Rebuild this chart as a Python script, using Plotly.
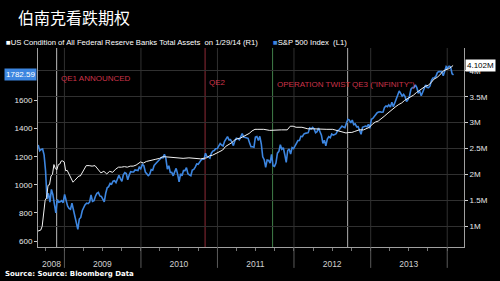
import plotly.graph_objects as go

# ---------------- data ----------------
spx_dates = [
"2008-08-29","2008-09-05","2008-09-12","2008-09-19","2008-09-26","2008-10-03","2008-10-10","2008-10-17","2008-10-24","2008-10-31",
"2008-11-07","2008-11-14","2008-11-21","2008-11-28","2008-12-05","2008-12-12","2008-12-19","2008-12-26",
"2009-01-02","2009-01-09","2009-01-16","2009-01-23","2009-01-30","2009-02-06","2009-02-13","2009-02-20","2009-02-27",
"2009-03-06","2009-03-13","2009-03-20","2009-03-27","2009-04-03","2009-04-09","2009-04-17","2009-04-24","2009-05-01",
"2009-05-08","2009-05-15","2009-05-22","2009-05-29","2009-06-05","2009-06-12","2009-06-19","2009-06-26","2009-07-03",
"2009-07-10","2009-07-17","2009-07-24","2009-07-31","2009-08-07","2009-08-14","2009-08-21","2009-08-28","2009-09-04",
"2009-09-11","2009-09-18","2009-09-25","2009-10-02","2009-10-09","2009-10-16","2009-10-23","2009-10-30","2009-11-06",
"2009-11-13","2009-11-20","2009-11-27","2009-12-04","2009-12-11","2009-12-18","2009-12-24","2009-12-31",
"2010-01-08","2010-01-15","2010-01-22","2010-01-29","2010-02-05","2010-02-12","2010-02-19","2010-02-26","2010-03-05",
"2010-03-12","2010-03-19","2010-03-26","2010-04-02","2010-04-09","2010-04-16","2010-04-23","2010-04-30","2010-05-07",
"2010-05-14","2010-05-21","2010-05-28","2010-06-04","2010-06-11","2010-06-18","2010-06-25","2010-07-02","2010-07-09",
"2010-07-16","2010-07-23","2010-07-30","2010-08-06","2010-08-13","2010-08-20","2010-08-27","2010-09-03","2010-09-10",
"2010-09-17","2010-09-24","2010-10-01","2010-10-08","2010-10-15","2010-10-22","2010-10-29","2010-11-05","2010-11-12",
"2010-11-19","2010-11-26","2010-12-03","2010-12-10","2010-12-17","2010-12-23","2010-12-31",
"2011-01-07","2011-01-14","2011-01-21","2011-01-28","2011-02-04","2011-02-11","2011-02-18","2011-02-25","2011-03-04",
"2011-03-11","2011-03-18","2011-03-25","2011-04-01","2011-04-08","2011-04-15","2011-04-21","2011-04-29","2011-05-06",
"2011-05-13","2011-05-20","2011-05-27","2011-06-03","2011-06-10","2011-06-17","2011-06-24","2011-07-01","2011-07-08",
"2011-07-15","2011-07-22","2011-07-29","2011-08-05","2011-08-12","2011-08-19","2011-08-26","2011-09-02","2011-09-09",
"2011-09-16","2011-09-23","2011-09-30","2011-10-07","2011-10-14","2011-10-21","2011-10-28","2011-11-04","2011-11-11",
"2011-11-18","2011-11-25","2011-12-02","2011-12-09","2011-12-16","2011-12-23","2011-12-30",
"2012-01-06","2012-01-13","2012-01-20","2012-01-27","2012-02-03","2012-02-10","2012-02-17","2012-02-24","2012-03-02",
"2012-03-09","2012-03-16","2012-03-23","2012-03-30","2012-04-06","2012-04-13","2012-04-20","2012-04-27","2012-05-04",
"2012-05-11","2012-05-18","2012-05-25","2012-06-01","2012-06-08","2012-06-15","2012-06-22","2012-06-29","2012-07-06",
"2012-07-13","2012-07-20","2012-07-27","2012-08-03","2012-08-10","2012-08-17","2012-08-24","2012-08-31","2012-09-07",
"2012-09-14","2012-09-21","2012-09-28","2012-10-05","2012-10-12","2012-10-19","2012-10-26","2012-11-02","2012-11-09",
"2012-11-16","2012-11-23","2012-11-30","2012-12-07","2012-12-14","2012-12-21","2012-12-28",
"2013-01-04","2013-01-11","2013-01-18","2013-01-25","2013-02-01","2013-02-08","2013-02-15","2013-02-22","2013-03-01",
"2013-03-08","2013-03-15","2013-03-22","2013-03-28","2013-04-05","2013-04-12","2013-04-19","2013-04-26","2013-05-03",
"2013-05-10","2013-05-17","2013-05-24","2013-05-31","2013-06-07","2013-06-14","2013-06-21","2013-06-28","2013-07-05",
"2013-07-12","2013-07-19","2013-07-26","2013-08-02","2013-08-09","2013-08-16","2013-08-23","2013-08-30","2013-09-06",
"2013-09-13","2013-09-20","2013-09-27","2013-10-04","2013-10-11","2013-10-18","2013-10-25","2013-11-01","2013-11-08",
"2013-11-15","2013-11-22","2013-11-29","2013-12-06","2013-12-13","2013-12-20","2013-12-27",
"2014-01-03","2014-01-10","2014-01-17","2014-01-24","2014-01-31"]
spx_values = [
1283,1242,1252,1255,1213,1099,899,940,877,968,
930,873,800,896,876,879,887,873,
932,890,850,832,826,869,827,770,735,
683,757,768,816,843,857,870,866,877,
929,882,887,919,940,946,921,918,896,
879,940,979,987,1010,1005,1026,1029,1016,
1042,1068,1044,1025,1072,1087,1080,1036,1069,
1093,1091,1092,1106,1106,1102,1126,1115,
1145,1136,1091,1074,1066,1075,1109,1104,1138,
1150,1160,1167,1179,1194,1192,1217,1187,1111,
1136,1088,1089,1064,1092,1117,1076,1022,1078,
1065,1102,1101,1122,1079,1071,1065,1105,1110,
1126,1149,1146,1166,1176,1183,1183,1225,1200,
1199,1190,1225,1240,1244,1257,1258,
1272,1293,1283,1276,1310,1329,1343,1320,1321,
1304,1279,1313,1332,1328,1320,1337,1364,1340,
1338,1333,1331,1300,1271,1271,1268,1340,1344,
1316,1345,1292,1199,1179,1124,1177,1174,1154,
1216,1136,1131,1155,1225,1238,1285,1253,1264,
1216,1159,1244,1255,1219,1265,1258,
1278,1289,1315,1316,1345,1343,1361,1366,1370,
1371,1404,1397,1408,1398,1370,1378,1403,1369,
1353,1295,1317,1278,1325,1343,1335,1362,1354,
1357,1363,1386,1391,1405,1418,1411,1407,1438,
1466,1460,1441,1461,1428,1433,1412,1414,1380,
1360,1409,1416,1418,1413,1430,1402,
1466,1472,1486,1503,1513,1518,1520,1516,1518,
1551,1561,1556,1569,1553,1588,1555,1582,1614,
1633,1667,1650,1631,1643,1627,1593,1606,1632,
1680,1692,1691,1710,1691,1655,1664,1633,1655,
1688,1710,1692,1691,1703,1744,1760,1762,1771,
1798,1805,1806,1805,1775,1818,1842,
1831,1843,1839,1790,1782.59]

fed_dates = [
"2008-08-27","2008-09-10","2008-09-17","2008-09-24","2008-10-01","2008-10-08","2008-10-15","2008-10-22","2008-10-29",
"2008-11-05","2008-11-12","2008-11-19","2008-11-26","2008-12-03","2008-12-10","2008-12-17","2008-12-24","2008-12-31",
"2009-01-07","2009-01-14","2009-01-21","2009-01-28","2009-02-04","2009-02-11","2009-02-18","2009-02-25","2009-03-04",
"2009-03-11","2009-03-18","2009-03-25","2009-04-01","2009-04-15","2009-04-29","2009-05-13","2009-05-27","2009-06-10",
"2009-06-24","2009-07-08","2009-07-22","2009-08-05","2009-08-19","2009-09-02","2009-09-16","2009-09-30","2009-10-14",
"2009-10-28","2009-11-11","2009-11-25","2009-12-09","2009-12-30","2010-01-13","2010-01-27","2010-02-10","2010-02-24",
"2010-03-10","2010-03-31","2010-04-14","2010-04-28","2010-05-26","2010-06-23","2010-07-21","2010-08-18","2010-09-15",
"2010-10-13","2010-11-10","2010-11-24","2010-12-08","2010-12-29","2011-01-12","2011-01-26","2011-02-09","2011-02-23",
"2011-03-09","2011-03-23","2011-04-06","2011-04-20","2011-05-04","2011-05-18","2011-06-01","2011-06-15","2011-06-29",
"2011-07-13","2011-08-10","2011-09-07","2011-10-05","2011-11-02","2011-11-30","2011-12-14","2011-12-28","2012-01-11",
"2012-02-08","2012-03-07","2012-04-04","2012-05-02","2012-06-06","2012-07-04","2012-08-08","2012-09-05","2012-09-19",
"2012-10-03","2012-10-17","2012-11-07","2012-11-28","2012-12-12","2012-12-26","2013-01-09","2013-01-23","2013-02-06",
"2013-02-20","2013-03-06","2013-03-20","2013-04-03","2013-04-17","2013-05-01","2013-05-15","2013-05-29","2013-06-12",
"2013-06-26","2013-07-10","2013-07-24","2013-08-07","2013-08-21","2013-09-04","2013-09-18","2013-10-02","2013-10-16",
"2013-10-30","2013-11-13","2013-11-27","2013-12-11","2013-12-25","2014-01-08","2014-01-22","2014-01-29"]
fed_values_m = [
0.905,0.925,1.00,1.25,1.50,1.55,1.79,1.80,1.97,
2.00,2.19,2.11,2.09,2.19,2.20,2.26,2.26,2.24,
2.07,2.08,2.02,1.98,1.93,1.85,1.88,1.91,1.92,
1.97,1.97,2.02,2.08,2.17,2.17,2.16,2.17,2.10,
2.03,2.06,2.01,2.06,2.04,2.10,2.14,2.14,2.15,
2.14,2.16,2.16,2.18,2.24,2.22,2.25,2.26,2.27,
2.29,2.31,2.34,2.34,2.33,2.33,2.31,2.32,2.31,
2.30,2.32,2.36,2.37,2.42,2.44,2.47,2.54,2.57,
2.61,2.66,2.69,2.70,2.73,2.76,2.79,2.84,2.87,
2.87,2.87,2.85,2.86,2.86,2.86,2.93,2.93,2.91,
2.91,2.88,2.88,2.87,2.87,2.87,2.83,2.80,2.81,
2.81,2.83,2.86,2.86,2.88,2.91,2.97,3.01,3.03,
3.07,3.12,3.17,3.22,3.26,3.31,3.35,3.38,3.43,
3.46,3.50,3.53,3.58,3.62,3.66,3.70,3.72,3.77,
3.84,3.87,3.92,3.99,4.02,4.04,4.08,4.102]

event_dates = ["2008-11-25", "2010-11-03", "2011-09-21", "2012-09-13"]
event_labels = ["QE1 ANNOUNCED", "QE2", "OPERATION TWIST", "QE3 (\"INFINITY\")"]
event_colors = ["#bdbdbd", "#8e2a36", "#3f7d48", "#b0b0b0"]
event_label_y = [0.846, 0.826, 0.816, 0.816]

year_label_dates = ["2008-10-31", "2009-07-01", "2010-07-01", "2011-07-01", "2012-07-01", "2013-07-01"]
year_labels = ["2008", "2009", "2010", "2011", "2012", "2013"]
year_starts = ["2009-01-01","2010-01-01","2011-01-01","2012-01-01","2013-01-01","2014-01-01"]

left_ticks = [600, 800, 1000, 1200, 1400, 1600]
right_ticks = [1, 1.5, 2, 2.5, 3, 3.5, 4]
right_ticktext = ["1M", "1.5M", "2M", "2.5M", "3M", "3.5M", "4M"]

title_text = "伯南克看跌期权"
fed_name = "US Condition of All Federal Reserve Banks Total Assets  on 1/29/14 (R1)"
spx_name = "S&P 500 Index  (L1)"
source_text = "Source: Source: Bloomberg Data"

BLUE = "#3d86e0"
RED = "#cc3349"

# ---------------- figure ----------------
fig = go.Figure()
fig.add_trace(go.Scatter(x=spx_dates, y=spx_values, mode="lines", yaxis="y",
                         line=dict(color=BLUE, width=1.6), name=spx_name, showlegend=False))
fig.add_trace(go.Scatter(x=fed_dates, y=fed_values_m, mode="lines", yaxis="y2",
                         line=dict(color="#f2f2f2", width=1), name=fed_name, showlegend=False))

fig.update_layout(
    width=500, height=281,
    margin=dict(l=38, r=34, t=48, b=32),
    paper_bgcolor="#000000", plot_bgcolor="#000000",
    font=dict(family="Liberation Sans, Arial, sans-serif", size=8, color="#e0e0e0"),
    xaxis=dict(type="date", range=["2008-08-28", "2014-03-22"],
               tickmode="array", tickvals=year_label_dates, ticktext=year_labels,
               ticks="", showgrid=False,
               showline=True, linecolor="#a0a0a0", linewidth=1, zeroline=False,
               tickfont=dict(size=8.5, color="#d0d0d0"), ticklabelstandoff=9,
               minor=dict(tickmode="linear", tick0="2008-01-01", dtick="M3",
                          ticks="outside", ticklen=3, tickcolor="#777", showgrid=False)),
    yaxis=dict(range=[558, 1973], tickvals=left_ticks, ticks="outside", ticklen=3,
               tickcolor="#cccccc", showgrid=False, zeroline=False,
               showline=True, linecolor="#a0a0a0", linewidth=1,
               tickfont=dict(size=8, color="#e8e8e8")),
    yaxis2=dict(range=[0.599, 4.44], overlaying="y", side="right",
                tickvals=right_ticks, ticktext=right_ticktext, ticks="outside", ticklen=3,
                tickcolor="#cccccc", showgrid=True, gridcolor="#303030", zeroline=False,
                showline=True, linecolor="#a0a0a0", linewidth=1,
                tickfont=dict(size=8, color="#e8e8e8")),
)

# year gridlines (inside) and long separator ticks (below the axis)
for d in year_starts:
    fig.add_shape(type="line", xref="x", yref="paper", x0=d, x1=d, y0=0, y1=1,
                  line=dict(color="#303030", width=1), layer="below")
    fig.add_shape(type="line", xref="x", yref="paper", x0=d, x1=d, y0=-0.105, y1=0,
                  line=dict(color="#5a5a5a", width=1), layer="above")

# event lines and labels
for d, lab, c, ly in zip(event_dates, event_labels, event_colors, event_label_y):
    fig.add_shape(type="line", xref="x", yref="paper", x0=d, x1=d, y0=0, y1=1,
                  line=dict(color=c, width=1), layer="below")
    fig.add_annotation(x=d, y=ly, xref="x", yref="paper", text=lab, showarrow=False,
                       xanchor="left", yanchor="middle", xshift=2,
                       font=dict(size=8, color=RED))

# title
fig.add_annotation(x=-0.0514, y=1.154, xref="paper", yref="paper", text=title_text,
                   showarrow=False, xanchor="left", yanchor="middle",
                   font=dict(family="Noto Sans CJK SC", size=16, color="#ffffff"))
# legend
fig.add_annotation(x=-0.0794, y=1.03, xref="paper", yref="paper",
                   text="<span style='color:#ffffff'>■</span>" + fed_name,
                   showarrow=False, xanchor="left", yanchor="middle",
                   font=dict(size=7.7, color="#ffffff"))
fig.add_annotation(x=0.5467, y=1.03, xref="paper", yref="paper",
                   text="<span style='color:%s'>■</span>" % BLUE + spx_name,
                   showarrow=False, xanchor="left", yanchor="middle",
                   font=dict(size=7.7, color="#ffffff"))
# source
fig.add_annotation(x=-0.0818, y=-0.134, xref="paper", yref="paper", text="<b>" + source_text + "</b>",
                   showarrow=False, xanchor="left", yanchor="middle",
                   font=dict(family="DejaVu Sans", size=7, color="#ffffff"))
# last value boxes
fig.add_annotation(x=0, y=spx_values[-1], xref="paper", yref="y", text="%.2f" % spx_values[-1],
                   showarrow=False, xanchor="right", yanchor="middle", xshift=-1,
                   bgcolor=BLUE, borderpad=1, font=dict(size=8, color="#ffffff"))
fig.add_annotation(x=1, y=fed_values_m[-1], xref="paper", yref="y2", text="%.3fM" % fed_values_m[-1],
                   showarrow=False, xanchor="left", yanchor="middle", xshift=1,
                   bgcolor="#ffffff", borderpad=1, font=dict(size=8, color="#000000"))

fig.write_html("out.html")
